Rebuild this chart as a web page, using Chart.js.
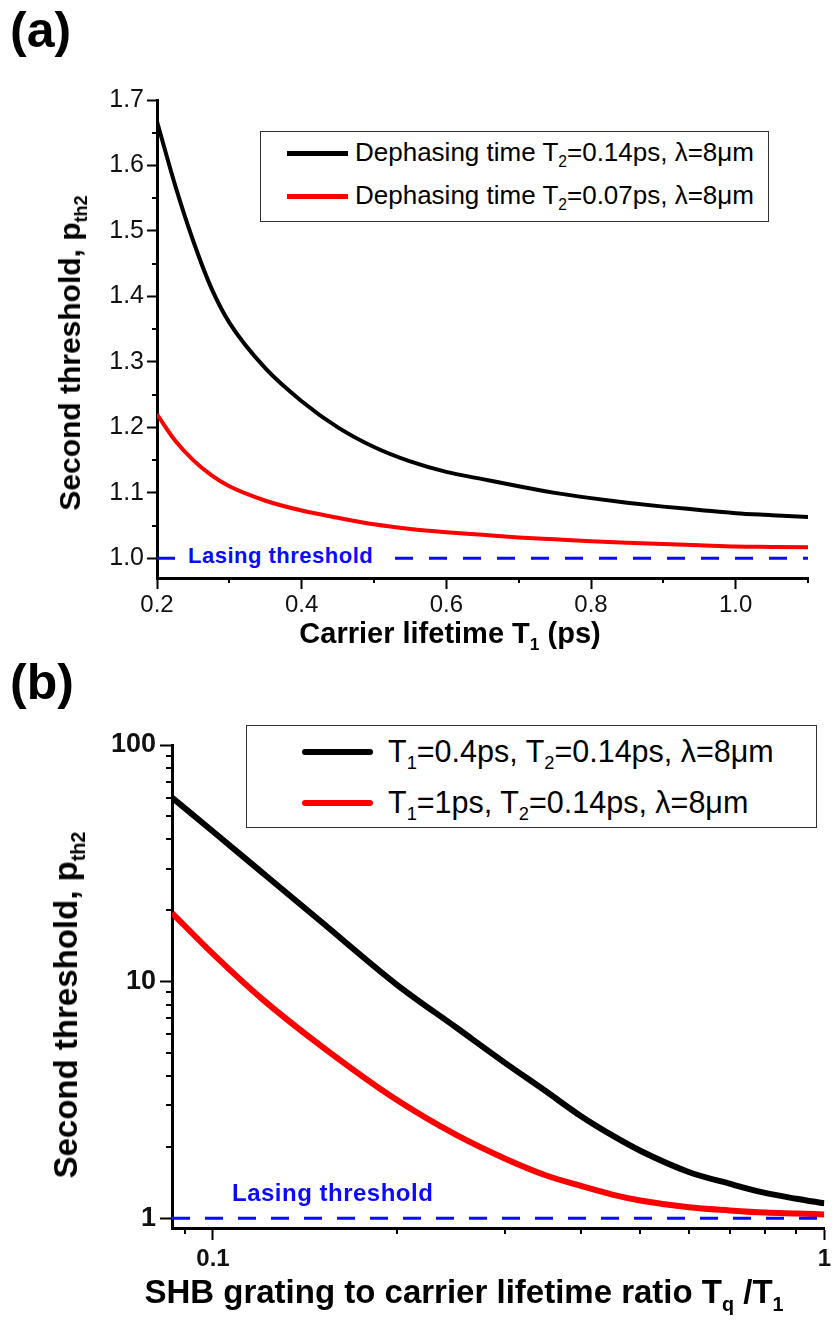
<!DOCTYPE html>
<html>
<head>
<meta charset="utf-8">
<script src="https://cdn.jsdelivr.net/npm/chart.js@4.4.1/dist/chart.umd.min.js"></script>
<style>
  html, body { margin:0; padding:0; background:#fff; }
  #wrap { position:relative; width:836px; height:1320px; overflow:hidden; font-family:'Liberation Sans', Arial, sans-serif; color:#000; }
  .cv { position:absolute; left:0; }
  .abs { position:absolute; white-space:nowrap; }
  .sb { font-size:0.6em; position:relative; top:0.4em; vertical-align:baseline; line-height:0; }
  .panel { font-weight:bold; font-size:50px; line-height:50px; }
  .ytitle { transform:translate(-50%,-50%) rotate(-90deg); font-weight:bold; }
  .xtitle { transform:translate(-50%,-50%); font-weight:bold; }
  .legbox { position:absolute; border:1.5px solid #333; box-sizing:border-box; background:#fff; }
  .legline { position:absolute; }
  .legtext { position:absolute; white-space:nowrap; transform:translateY(-50%); }
  .lasing { position:absolute; white-space:nowrap; color:#0a0aff; font-weight:bold; letter-spacing:0.5px; }
</style>
</head>
<body>
<div id="wrap">
  <canvas id="chartA" class="cv" width="836" height="660" style="top:0"></canvas>
  <canvas id="chartB" class="cv" width="836" height="660" style="top:660px"></canvas>

  <div class="abs panel" style="left:10px; top:5px;">(a)</div>
  <div class="abs panel" style="left:10px; top:657px;">(b)</div>

  <!-- panel (a) legend -->
  <div class="legbox" style="left:260px; top:131px; width:509px; height:91px;"></div>
  <div class="legline" style="left:287px; top:151px; width:61px; height:5px; background:#000;"></div>
  <div class="legline" style="left:287px; top:194px; width:61px; height:5px; background:#ff0000;"></div>
  <div class="legtext" style="left:355px; top:152px; font-size:26px;">Dephasing time T<span class="sb">2</span>=0.14ps, λ=8μm</div>
  <div class="legtext" style="left:355px; top:195px; font-size:26px;">Dephasing time T<span class="sb">2</span>=0.07ps, λ=8μm</div>

  <!-- panel (b) legend -->
  <div class="legbox" style="left:246px; top:725px; width:571px; height:103px;"></div>
  <div class="legline" style="left:302px; top:749px; width:71px; height:6px; background:#000; border-radius:3px;"></div>
  <div class="legline" style="left:302px; top:800px; width:71px; height:6px; background:#ff0000; border-radius:3px;"></div>
  <div class="legtext" style="left:388px; top:751px; font-size:30.5px;">T<span class="sb">1</span>=0.4ps, T<span class="sb">2</span>=0.14ps, λ=8μm</div>
  <div class="legtext" style="left:388px; top:802px; font-size:30.5px;">T<span class="sb">1</span>=1ps, T<span class="sb">2</span>=0.14ps, λ=8μm</div>

  <!-- threshold labels -->
  <div class="lasing" style="left:175px; top:542px; width:218px; height:28px; line-height:28px; padding-left:13px; box-sizing:border-box; background:#fff; font-size:22px;">Lasing threshold</div>
  <div class="lasing" style="left:232px; top:1178px; height:30px; line-height:30px; font-size:24px;">Lasing threshold</div>

  <!-- axis titles -->
  <div class="abs ytitle" style="left:70px; top:353px; font-size:30px;">Second threshold, p<span class="sb">th2</span></div>
  <div class="abs xtitle" style="left:450px; top:633px; font-size:29px;">Carrier lifetime T<span class="sb">1</span> (ps)</div>
  <div class="abs ytitle" style="left:66px; top:1005px; font-size:33px;">Second threshold, p<span class="sb">th2</span></div>
  <div class="abs xtitle" style="left:464px; top:1292px; font-size:33px;">SHB grating to carrier lifetime ratio T<span class="sb">q</span> /T<span class="sb">1</span></div>
</div>

<script>
// ---------- Panel (a) data ----------
const carrierLifetimeT1 = [0.2, 0.225, 0.25, 0.275, 0.3, 0.35, 0.4, 0.45, 0.5, 0.55, 0.6, 0.65, 0.7, 0.75, 0.8, 0.85, 0.9, 0.95, 1.0, 1.05, 1.1];
const thresholdT2_014 = [1.667, 1.570, 1.485, 1.413, 1.360, 1.290, 1.240, 1.200, 1.170, 1.148, 1.132, 1.121, 1.110, 1.100, 1.092, 1.085, 1.079, 1.074, 1.069, 1.066, 1.063];
const thresholdT2_007 = [1.220, 1.180, 1.150, 1.127, 1.110, 1.088, 1.073, 1.062, 1.052, 1.045, 1.040, 1.036, 1.032, 1.029, 1.026, 1.024, 1.022, 1.020, 1.018, 1.0175, 1.017];
const lasingThresholdA = [1.0, 1.0];
const xTicksA = [0.2, 0.4, 0.6, 0.8, 1.0];
const xMinorA = [0.3, 0.5, 0.7, 0.9, 1.1];
const yTicksA = [1.0, 1.1, 1.2, 1.3, 1.4, 1.5, 1.6, 1.7];
const yMinorA = [1.05, 1.15, 1.25, 1.35, 1.45, 1.55, 1.65];

// ---------- Panel (b) data ----------
const lifetimeRatio = [0.0857, 0.1, 0.12, 0.15, 0.2, 0.25, 0.3, 0.35, 0.4, 0.45, 0.5, 0.6, 0.7, 0.8, 0.9, 1.0];
const thresholdT1_04 = [60, 43.1, 29.1, 18.0, 9.7, 6.4, 4.55, 3.45, 2.7, 2.24, 1.93, 1.57, 1.40, 1.28, 1.21, 1.157];
const thresholdT1_1 = [19.5, 13.1, 8.5, 5.37, 3.16, 2.25, 1.79, 1.52, 1.37, 1.26, 1.19, 1.114, 1.08, 1.057, 1.047, 1.038];
const lasingThresholdB = [1.0, 1.0];
const xTicksB = [0.1, 1];
const xMinorB = [0.09, 0.2, 0.3, 0.4, 0.5, 0.6, 0.7, 0.8, 0.9];
const yTicksB = [1, 10, 100];
const yMinorB = [2, 3, 4, 5, 6, 7, 8, 9, 20, 30, 40, 50, 60, 70, 80, 90];

const pts = (xs, ys) => xs.map((x, i) => ({ x: x, y: ys[i] }));

const minorTicks = {
  id: 'minorTicks',
  afterDraw(chart, args, opts) {
    const ctx = chart.ctx;
    const sx = chart.scales.x, sy = chart.scales.y;
    ctx.save();
    ctx.strokeStyle = '#000';
    ctx.lineWidth = opts.width || 2;
    (opts.x || []).forEach(v => {
      const px = Math.round(sx.getPixelForValue(v));
      ctx.beginPath();
      ctx.moveTo(px, chart.chartArea.bottom);
      ctx.lineTo(px, chart.chartArea.bottom + opts.len);
      ctx.stroke();
    });
    (opts.y || []).forEach(v => {
      const py = Math.round(sy.getPixelForValue(v));
      ctx.beginPath();
      ctx.moveTo(chart.chartArea.left, py);
      ctx.lineTo(chart.chartArea.left - opts.len, py);
      ctx.stroke();
    });
    ctx.restore();
  }
};

function axisCommon(tickLen, fontSize, bold, padding, cb) {
  return {
    grid: { drawOnChartArea: false, drawTicks: true, tickLength: tickLen, tickWidth: 2, tickColor: '#000' },
    border: { display: true, width: 3, color: '#000' },
    ticks: { color: '#111', padding: padding, callback: cb,
             font: { family: "'Liberation Sans', Arial, sans-serif", size: fontSize, weight: bold ? 'bold' : 'normal' },
             maxRotation: 0, autoSkip: false }
  };
}
const fmt1 = v => Number(v).toFixed(1);
const fmtRaw = v => String(v);

// ---------- Chart A ----------
new Chart(document.getElementById('chartA'), {
  type: 'line',
  data: {
    datasets: [
      { data: pts(carrierLifetimeT1, thresholdT2_014), borderColor: '#000', borderWidth: 4, pointRadius: 0, cubicInterpolationMode: 'monotone', fill: false },
      { data: pts(carrierLifetimeT1, thresholdT2_007), borderColor: '#ff0000', borderWidth: 4, pointRadius: 0, cubicInterpolationMode: 'monotone', fill: false },
      { data: pts([0.2, 1.1], lasingThresholdA), borderColor: '#0a0aff', borderWidth: 3, borderDash: [18, 16], pointRadius: 0, fill: false, order: -1 }
    ]
  },
  options: {
    responsive: false, animation: false, devicePixelRatio: 1,
    layout: { padding: { top: 100, right: 28, left: 0, bottom: 0 } },
    plugins: { legend: { display: false }, tooltip: { enabled: false }, minorTicks: { x: xMinorA, y: yMinorA, len: 5, width: 2 } },
    scales: {
      x: Object.assign(axisCommon(11, 24, false, 2, fmt1), {
        type: 'linear', min: 0.2, max: 1.1,
        afterBuildTicks: s => { s.ticks = xTicksA.map(v => ({ value: v })); },
        afterFit: s => { s.height = 82; }
      }),
      y: Object.assign(axisCommon(10, 25, false, 3, fmt1), {
        type: 'linear', min: 0.97, max: 1.7,
        afterBuildTicks: s => { s.ticks = yTicksA.map(v => ({ value: v })); },
        afterFit: s => { s.width = 157; }
      })
    }
  },
  plugins: [minorTicks]
});

// ---------- Chart B ----------
new Chart(document.getElementById('chartB'), {
  type: 'line',
  data: {
    datasets: [
      { data: pts(lifetimeRatio, thresholdT1_04), borderColor: '#000', borderWidth: 6, pointRadius: 0, cubicInterpolationMode: 'monotone', fill: false },
      { data: pts(lifetimeRatio, thresholdT1_1), borderColor: '#ff0000', borderWidth: 6, pointRadius: 0, cubicInterpolationMode: 'monotone', fill: false },
      { data: pts([0.0857, 1], lasingThresholdB), borderColor: '#0a0aff', borderWidth: 3, borderDash: [18, 15], pointRadius: 0, fill: false, order: -1 }
    ]
  },
  options: {
    responsive: false, animation: false, devicePixelRatio: 1,
    layout: { padding: { top: 85, right: 8, left: 0, bottom: 0 } },
    plugins: { legend: { display: false }, tooltip: { enabled: false }, minorTicks: { x: xMinorB, y: yMinorB, len: 6, width: 2 } },
    scales: {
      x: Object.assign(axisCommon(12, 24, true, 5, fmtRaw), {
        type: 'logarithmic', min: 0.0857, max: 1,
        afterBuildTicks: s => { s.ticks = xTicksB.map(v => ({ value: v })); },
        afterFit: s => { s.height = 92; }
      }),
      y: Object.assign(axisCommon(12, 27, true, 4, fmtRaw), {
        type: 'logarithmic', min: 0.91, max: 100,
        afterBuildTicks: s => { s.ticks = yTicksB.map(v => ({ value: v })); },
        afterFit: s => { s.width = 172; }
      })
    }
  },
  plugins: [minorTicks]
});
</script>
</body>
</html>
